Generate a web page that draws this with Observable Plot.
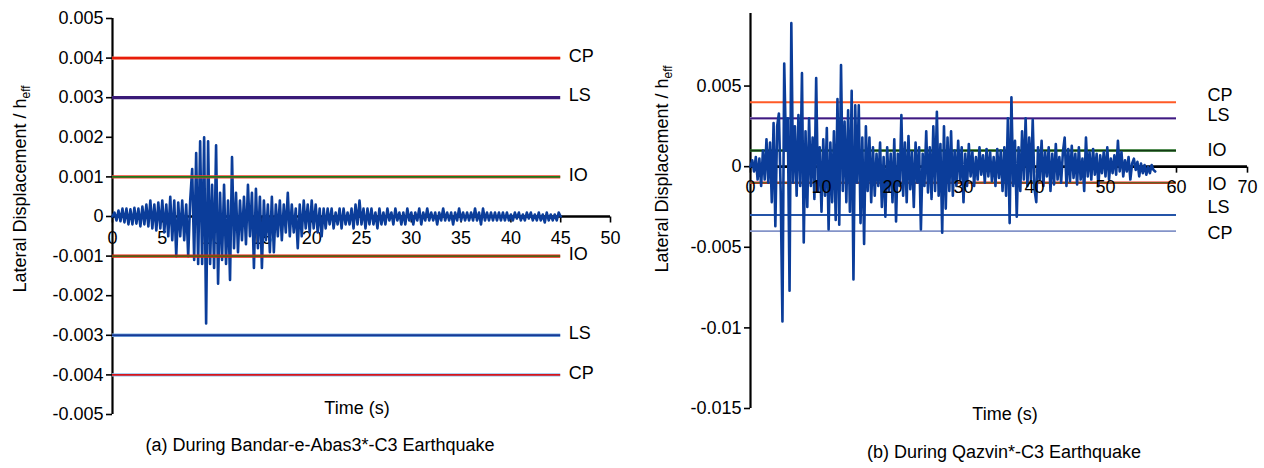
<!DOCTYPE html>
<html>
<head>
<meta charset="utf-8">
<script src="https://cdn.jsdelivr.net/npm/d3@7"></script>
<script src="https://cdn.jsdelivr.net/npm/@observablehq/plot@0.6"></script>
<style>
  body { margin: 0; background: #fff; font-family: "Liberation Sans", Arial, sans-serif; color: #000; }
  #wrap { position: relative; width: 1264px; height: 468px; overflow: hidden; }
  .panel { position: absolute; top: 0; }
  .ylab { position: absolute; white-space: nowrap; font-size: 18px; transform: translate(-50%, -50%) rotate(-90deg); }
  .ylab sub { font-size: 12px; vertical-align: -4px; }
  .xlab, .cap { position: absolute; white-space: nowrap; transform: translate(-50%, -50%); }
  .xlab { font-size: 18px; }
  .cap { font-size: 18px; }
</style>
</head>
<body>
<div id="wrap">
  <div class="panel" id="pa" style="left:0px"></div>
  <div class="panel" id="pb" style="left:640px"></div>
  <div class="ylab" style="left:21px; top:189px">Lateral Displacement / h<sub>eff</sub></div>
  <div class="ylab" style="left:663px; top:169px">Lateral Displacement / h<sub>eff</sub></div>
  <div class="xlab" style="left:357px; top:408px">Time (s)</div>
  <div class="xlab" style="left:1005px; top:414px">Time (s)</div>
  <div class="cap" style="left:320px; top:445px">(a) During Bandar-e-Abas3*-C3 Earthquake</div>
  <div class="cap" style="left:1004px; top:452px">(b) During Qazvin*-C3 Earthquake</div>
</div>
<script>
// ---------------- DATA ----------------
// Panel (a): Bandar-e-Abas3*-C3, sampled every 0.2 s from 0 to 45 s
const timeStepA = 0.2;
const dispA = [
  0, 0.0001, -0.0001, 0.00015, -0.00012, 0.0002, -0.00015, 0.0002, -0.0002, 0.00018,
  -0.0002, 0.00022, -0.00018, 0.0002, -0.00025, 0.00025, -0.0002, 0.0003, -0.00025, 0.0004,
  -0.0003, 0.0003, -0.00035, 0.00035, -0.0003, 0.0004, -0.0004, 0.0003, -0.0005, 0.0005,
  -0.0006, 0.0004, -0.001, 0.00035, -0.0005, 0.0004, -0.0006, 0.0003, -0.001, 0.0004,
  0.0012, -0.0011, 0.0016, -0.0012, 0.0019, -0.0012, 0.002, -0.0027, 0.0019, -0.0012,
  0.0008, -0.0013, 0.0018, -0.0017, 0.0006, -0.0011, 0.0008, -0.0012, 0.0004, -0.0016,
  0.0015, -0.0008, 0.0006, -0.0009, 0.0004, -0.0006, 0.0005, -0.0007, 0.0008, -0.0005,
  0.0006, -0.0013, 0.0007, -0.0008, 0.0005, -0.0013, 0.0004, -0.0006, 0.0003, -0.0009,
  0.0005, -0.0009, 0.0003, -0.0005, 0.0004, -0.0006, 0.0003, -0.0004, 0.0006, -0.0005,
  0.0003, -0.0004, 0.0002, -0.0008, 0.0003, -0.0005, 0.0004, -0.0003, 0.0003, -0.0004,
  0.0004, -0.0003, 0.0003, -0.0004, 0.0002, -0.0005, 0.0002, -0.0003, 0.0002, -0.0002,
  0.0002, -0.0003, 0.0001, -0.0002, 0.0002, -0.0003, 0.0002, -0.0002, 0.0001, -0.0002,
  0.0002, -0.0003, 0.0003, -0.0002, 0.0004, -0.0002, 0.0002, -0.0003, 0.0002, -0.0002,
  0.0002, -0.0002, 0.0001, -0.0003, 0.0002, -0.0002, 0.0001, -0.0002, 0.0002, -0.0001,
  0.0001, -0.0002, 0.0002, -0.0001, 0.0001, -0.0002, 0.0001, -0.0002, 0.0002, -0.0001,
  0.0001, -0.0002, 0.0001, -0.0001, 0.0002, -0.0002, 0.0001, -0.0001, 0.0002, -0.0001,
  0.0001, -0.0001, 0.0001, -0.0002, 0.0001, -0.0001, 0.0002, -0.0001, 0.0001, -0.0001,
  0.0001, -0.0002, 0.0001, -0.0001, 0.0002, -0.0001, 0.0001, -0.0001, 0.0001, -0.0001,
  0.0001, -0.0001, 0.0002, -0.0001, 0.0001, -0.0002, 0.0002, -0.0001, 0.0001, -0.0001,
  0.0001, -0.0001, 0.0001, -0.0001, 0.0001, -0.0001, 0.0001, -0.0001, 0.0001, -0.0001,
  0.00005, -0.0001, 0.0001, -0.00005, 0.0001, -0.0001, 0.00005, -0.0001, 0.0001, -0.00005,
  0.0001, -0.0001, 0.00005, -0.0001, 0.0001, -0.0001, 0.00005, -0.00015, 0.0001, -0.0001,
  0.00005, -0.0001, 0.00005, -0.0001, 0.0001, 0
];
const xTicksA = [0, 5, 10, 15, 20, 25, 30, 35, 40, 45, 50];
const yTicksA = [-0.005, -0.004, -0.003, -0.002, -0.001, 0, 0.001, 0.002, 0.003, 0.004, 0.005];
const levelNamesA = ["CP", "LS", "IO", "IO", "LS", "CP"];
const levelValuesA = [0.004, 0.003, 0.001, -0.001, -0.003, -0.004];

// Panel (b): Qazvin*-C3, sampled every 0.25 s from 0 to 57 s
const timeStepB = 0.25;
const dispB = [
  0, 0.0004, -0.0003, 0.0006, -0.0008, 0.0005, -0.0012, 0.001,
  -0.0008, 0.0017, -0.001, 0.0015, -0.0022, 0.0027, -0.0037, 0.0025,
  0.0033, -0.0015, -0.0096, 0.0064, 0.001, 0.003, -0.0077, 0.0089,
  -0.001, 0.0025, -0.0018, 0.0032, -0.0012, 0.0058, -0.0047, 0.0022,
  -0.0025, 0.003, -0.0012, 0.0018, -0.002, 0.0055, -0.0015, 0.0012,
  -0.0028, 0.0017, -0.0018, 0.0024, -0.0039, 0.0015, -0.0022, 0.0022,
  -0.0033, 0.0042, -0.0036, 0.0063, -0.0015, 0.0028, -0.0022, 0.0035,
  -0.0028, 0.0047, -0.007, 0.0038, -0.001, 0.0038, -0.0035, 0.0018,
  -0.0048, 0.0025, -0.0015, 0.0018, -0.0022, 0.0012, -0.0018, 0.0008,
  -0.0012, 0.0015, -0.0025, 0.0006, -0.0031, 0.0012, -0.0015, 0.0008,
  -0.0022, 0.0017, -0.0034, 0.0008, -0.0012, 0.0032, -0.0018, 0.0015,
  -0.0022, 0.0019, -0.0014, 0.0009, -0.0025, 0.0015, -0.001, 0.0012,
  -0.0039, 0.0008, -0.0012, 0.0022, -0.0016, 0.0012, -0.002, 0.0025,
  -0.0015, 0.0034, -0.0018, 0.0014, -0.0041, 0.0025, -0.0026, 0.0018,
  -0.0015, 0.0022, -0.0018, 0.001, -0.0012, 0.0016, -0.0008, 0.0012,
  -0.0022, 0.0008, -0.0012, 0.0014, -0.0006, 0.0009, -0.0012, 0.0006,
  -0.0008, 0.0012, -0.0005, 0.0007, -0.001, 0.0011, -0.0006, 0.0009,
  -0.0009, 0.0006, -0.0012, 0.0011, -0.0007, 0.001, -0.0015, 0.0012,
  -0.0018, 0.003, -0.0035, 0.0043, -0.0012, 0.0016, -0.0031, 0.0012,
  -0.0015, 0.0022, -0.0008, 0.003, -0.0012, 0.0018, -0.0009, 0.0029,
  -0.0014, -0.0022, 0.0012, -0.0008, 0.0016, -0.0012, 0.0009, -0.0006,
  0.0012, -0.0015, 0.0008, -0.0011, 0.0014, -0.0008, 0.0006, -0.001,
  0.0009, 0.0018, -0.0012, 0.0011, -0.0009, 0.0013, -0.0007, 0.0008,
  -0.0011, 0.0012, -0.0008, 0.0005, -0.0015, 0.0018, -0.0006, 0.0009,
  -0.0008, 0.0011, -0.0005, 0.0008, -0.0012, 0.0007, -0.0004, 0.0009,
  -0.0006, 0.0012, -0.0008, 0.0005, -0.0004, 0.0007, -0.0005, 0.0016,
  -0.0003, 0.0009, -0.0006, 0.0004, -0.0003, 0.0006, -0.0008, 0.0002,
  0.0005, -0.0002, 0.0003, -0.0006, 0.0002, -0.0004, 0.0001, -0.0005,
  0, -0.0004, 0.0001, -0.0002, -0.0003
];
const xTicksB = [0, 10, 20, 30, 40, 50, 60, 70];
const yTicksB = [-0.015, -0.01, -0.005, 0, 0.005];
const yExtentB = [-0.015, 0.0095];
const levelNamesB = ["CP", "LS", "IO", "IO", "LS", "CP"];
const levelValuesB = [0.004, 0.003, 0.001, -0.001, -0.003, -0.004];
const levelEndB = 60;

// ---------------- DRAWING ----------------
const FONT = '"Liberation Sans", Arial, sans-serif';
const seriesA = dispA.map((v, i) => ({t: +(i * timeStepA).toFixed(2), v}));
const seriesB = dispB.map((v, i) => ({t: +(i * timeStepB).toFixed(2), v}));
const levelsA = levelNamesA.map((name, i) => ({name, v: levelValuesA[i]}));
const levelsB = levelNamesB.map((name, i) => ({name, v: levelValuesB[i]}));
const endA = d3.max(seriesA, d => d.t);

// line styles: for each level, stacked strokes [color, width]
const strokesA = [
  [["#f06a50", 3.2], ["#e81c0a", 2]],
  [["#3a1a78", 3.2]],
  [["#f04030", 3.4], ["#1b7a1b", 1.6]],
  [["#e81c0a", 3.4], ["#1b7a1b", 1.4]],
  [["#7fb2e5", 3.6], ["#163a96", 2]],
  [["#8fc0ee", 3.4], ["#d8141a", 1.6]]
];
const strokesB = [
  [["#ff5a26", 2]],
  [["#b9a8d8", 2.6], ["#3f1a80", 1.8]],
  [["#1e6a1e", 2.6], ["#143a14", 1.2]],
  [["#e8281c", 2.4], ["#2a7a2a", 1]],
  [["#2454a8", 2]],
  [["#8393c8", 1.6]]
];
// small vertical nudges (px) of the level labels in panel (b), as in the original figure
const labelNudgeB = [-7, -3, 0, 1, -8, 2];

const tickDown = { draw(ctx) { ctx.moveTo(0, 0); ctx.lineTo(0, 6); } };

function levelMarks(levels, strokes, xEnd) {
  const marks = [];
  levels.forEach((lv, i) => {
    strokes[i].forEach(([c, w]) => {
      marks.push(Plot.ruleY([lv], {y: "v", x1: 0, x2: xEnd, stroke: c, strokeWidth: w}));
    });
  });
  return marks;
}

const plotA = Plot.plot({
  width: 632, height: 430,
  marginLeft: 112, marginRight: 22, marginTop: 18, marginBottom: 16,
  x: {domain: d3.extent(xTicksA), axis: null},
  y: {domain: d3.extent(yTicksA), axis: null},
  style: {fontFamily: FONT, fontSize: "18px", color: "#000", background: "transparent", overflow: "visible"},
  marks: [
    Plot.axisY(yTicksA, {tickFormat: d => String(d), tickSize: 6, tickPadding: 3, strokeWidth: 1.6, fontSize: 18, label: null}),
    Plot.ruleX([0], {stroke: "#000", strokeWidth: 2.2}),
    Plot.ruleY([0], {x1: d3.min(xTicksA), x2: d3.max(xTicksA), stroke: "#000", strokeWidth: 2.6}),
    Plot.dot(xTicksA, {x: d => d, y: 0, symbol: tickDown, stroke: "#000", fill: "none", strokeWidth: 1.6}),
    Plot.text(xTicksA, {x: d => d, y: 0, text: d => String(d), dy: 22, fontSize: 18, fill: "#000"}),
    Plot.line(seriesA, {x: "t", y: "v", stroke: "#0b3d9a", strokeWidth: 2.6, strokeLinejoin: "round"}),
    ...levelMarks(levelsA, strokesA, endA),
    Plot.text(levelsA, {x: endA, y: "v", text: "name", dx: 8, dy: -2, textAnchor: "start", fontSize: 18, fill: "#000"})
  ]
});
document.getElementById("pa").appendChild(plotA);

const plotB = Plot.plot({
  width: 624, height: 430,
  marginLeft: 110, marginRight: 17, marginTop: 13, marginBottom: 22,
  x: {domain: d3.extent(xTicksB), axis: null},
  y: {domain: yExtentB, axis: null},
  style: {fontFamily: FONT, fontSize: "18px", color: "#000", background: "transparent", overflow: "visible"},
  marks: [
    Plot.axisY(yTicksB, {tickFormat: d => String(d), tickSize: 6, tickPadding: 3, strokeWidth: 1.6, fontSize: 18, label: null}),
    Plot.ruleX([0], {stroke: "#000", strokeWidth: 2.2}),
    Plot.ruleY([0], {x1: d3.min(xTicksB), x2: d3.max(xTicksB), stroke: "#000", strokeWidth: 2.6}),
    Plot.dot(xTicksB, {x: d => d, y: 0, symbol: tickDown, stroke: "#000", fill: "none", strokeWidth: 1.6}),
    ...levelMarks(levelsB, strokesB, levelEndB),
    Plot.line(seriesB, {x: "t", y: "v", stroke: "#0b3d9a", strokeWidth: 2.6, strokeLinejoin: "round"}),
    Plot.text(xTicksB, {x: d => d, y: 0, text: d => String(d), dy: 21, fontSize: 18, fill: "#000"}),
    ...levelsB.map((lv, i) => Plot.text([lv], {x: levelEndB, y: "v", text: "name", dx: 31, dy: labelNudgeB[i], textAnchor: "start", fontSize: 18, fill: "#000"}))
  ]
});
document.getElementById("pb").appendChild(plotB);
</script>
</body>
</html>
